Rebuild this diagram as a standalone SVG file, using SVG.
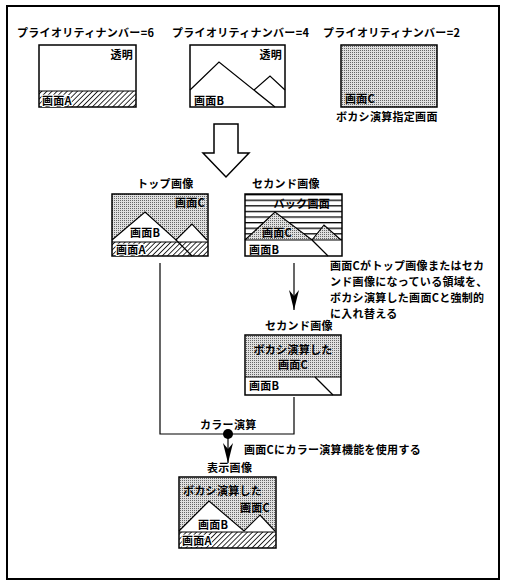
<svg xmlns="http://www.w3.org/2000/svg" width="506" height="582" viewBox="0 0 506 582">
<style>
text{font-family:"Noto Sans CJK JP","Noto Sans CJK SC",sans-serif;font-size:11px;font-weight:bold;fill:#000;letter-spacing:0.3px}
.in{paint-order:stroke;stroke:#fff;stroke-width:2px}
.box{fill:none;stroke:#000;stroke-width:1.5}
.ln{fill:none;stroke:#000;stroke-width:1.2}
.dot{fill:url(#dots)}
.hat{fill:url(#hatch)}
.wh{fill:#fff}
</style>
<defs>
<pattern id="dots" width="2" height="2" patternUnits="userSpaceOnUse"><rect width="2" height="2" fill="#e0e0e0"/><rect width="1" height="1" fill="#666"/></pattern>
<pattern id="hatch" width="3.6" height="3.6" patternUnits="userSpaceOnUse" patternTransform="rotate(45)"><rect width="3.6" height="3.6" fill="#fff"/><line x1="0" y1="0" x2="0" y2="3.6" stroke="#000" stroke-width="1.6"/></pattern>
<pattern id="stripes" width="6" height="5.6" patternUnits="userSpaceOnUse" y="194"><rect width="6" height="5.6" fill="#fff"/><rect y="0" width="6" height="1.3" fill="#000"/></pattern>
<marker id="ah" viewBox="0 0 20 10" markerWidth="20" markerHeight="10" refX="20" refY="5" orient="auto" markerUnits="userSpaceOnUse"><path d="M0,0 L20,5 L0,10 L6,5 Z" fill="#000"/></marker>
</defs>
<rect x="7" y="6" width="492" height="573" fill="#fff" stroke="#000" stroke-width="2"/>

<g id="label-p6"><text x="17" y="37">プライオリティナンバー=6</text></g>
<g id="label-p4"><text x="172" y="37">プライオリティナンバー=4</text></g>
<g id="label-p2"><text x="323" y="37">プライオリティナンバー=2</text></g>

<g id="screenA">
<rect x="39" y="91" width="97" height="16" class="hat"/>
<line x1="39" y1="91" x2="136" y2="91" class="ln"/>
<rect x="39" y="45" width="97" height="62" class="box"/>
<text x="133" y="59" text-anchor="end">透明</text>
<text x="42" y="105" class="in">画面A</text>
</g>

<g id="screenB">
<rect x="190" y="45" width="95" height="62" fill="#fff"/>
<polyline points="190,90 219,62 275,107" class="ln"/>
<polyline points="254,90 270,76 285,90" class="ln"/>
<rect x="190" y="45" width="95" height="62" class="box"/>
<text x="282" y="59" text-anchor="end">透明</text>
<text x="194" y="105">画面B</text>
</g>

<g id="screenC">
<rect x="341" y="45" width="96" height="62" class="dot" stroke="#000" stroke-width="1.5"/>
<text x="345" y="103">画面C</text>
<text x="336" y="121">ボカシ演算指定画面</text>
</g>

<g id="big-arrow">
<polygon points="214,124 238,124 238,153 249,153 226,177 203,153 214,153" fill="#fff" stroke="#000" stroke-width="1.5"/>
</g>

<g id="top-image">
<text x="137" y="188">トップ画像</text>
<rect x="112" y="194" width="96" height="48" class="dot"/>
<polygon points="112,240 145,212 176,240 192,224 207,240 207,242 112,242" class="wh"/>
<polyline points="112,240 145,212 176,240 192,224 207,240" class="ln"/>
<rect x="112" y="242" width="96" height="14" class="hat"/>
<line x1="176" y1="240" x2="192" y2="256" class="ln"/>
<line x1="112" y1="242" x2="208" y2="242" class="ln"/>
<rect x="112" y="194" width="96" height="62" class="box"/>
<text x="205" y="207" text-anchor="end">画面C</text>
<text x="130" y="237">画面B</text>
<text x="116" y="254" class="in">画面A</text>
</g>

<g id="second-image">
<text x="252" y="188">セカンド画像</text>
<rect x="245" y="194" width="97" height="46" fill="url(#stripes)"/>
<polygon points="245,240 275,212 312,240 324,225 341,240" class="dot"/>
<polyline points="245,240 275,212 312,240 324,225 341,240" class="ln"/>
<rect x="245" y="240" width="97" height="16" fill="#fff"/>
<line x1="312" y1="240" x2="328" y2="256" class="ln"/>
<line x1="245" y1="240" x2="342" y2="240" class="ln"/>
<rect x="245" y="194" width="97" height="62" class="box"/>
<text x="330" y="208" text-anchor="end">バック画面</text>
<text x="262" y="237">画面C</text>
<text x="249" y="254">画面B</text>
</g>

<g id="note1">
<text x="330" y="270">画面Cがトップ画像またはセカ</text>
<text x="330" y="286">ンド画像になっている領域を、</text>
<text x="330" y="302">ボカシ演算した画面Cと強制的</text>
<text x="330" y="318">に入れ替える</text>
</g>

<g id="second-image-2">
<text x="265" y="330">セカンド画像</text>
<rect x="245" y="335" width="96" height="42" class="dot"/>
<rect x="245" y="377" width="96" height="18" fill="#fff"/>
<line x1="245" y1="377" x2="341" y2="377" class="ln"/>
<line x1="315" y1="377" x2="333" y2="395" class="ln"/>
<rect x="245" y="335" width="96" height="60" class="box"/>
<text x="293" y="354" text-anchor="middle">ボカシ演算した</text>
<text x="293" y="369" text-anchor="middle">画面C</text>
<text x="249" y="390">画面B</text>
</g>

<g id="connectors">
<line x1="294" y1="263" x2="294" y2="310" class="ln" stroke-width="1.5" marker-end="url(#ah)"/>
<polyline points="160,263 160,434 294,434 294,397" class="ln" stroke-width="1.5"/>
<circle cx="228" cy="434" r="5" fill="#000"/>
<line x1="228" y1="438" x2="228" y2="463" class="ln" stroke-width="1.5" marker-end="url(#ah)"/>
<text x="200" y="429">カラー演算</text>
<text x="244" y="454">画面Cにカラー演算機能を使用する</text>
</g>

<g id="display-image">
<text x="207" y="472">表示画像</text>
<rect x="179" y="477" width="97" height="55" class="dot"/>
<polygon points="179,531 209,501 244,531 260,515 275,531 275,532 179,532" class="wh"/>
<polyline points="179,531 209,501 244,531 260,515 275,531" class="ln"/>
<rect x="179" y="532" width="97" height="16" class="hat"/>
<line x1="179" y1="532" x2="276" y2="532" class="ln"/>
<rect x="179" y="477" width="97" height="71" class="box"/>
<text x="183" y="495">ボカシ演算した</text>
<text x="240" y="512">画面C</text>
<text x="198" y="529">画面B</text>
<text x="182" y="545" class="in">画面A</text>
</g>
</svg>
